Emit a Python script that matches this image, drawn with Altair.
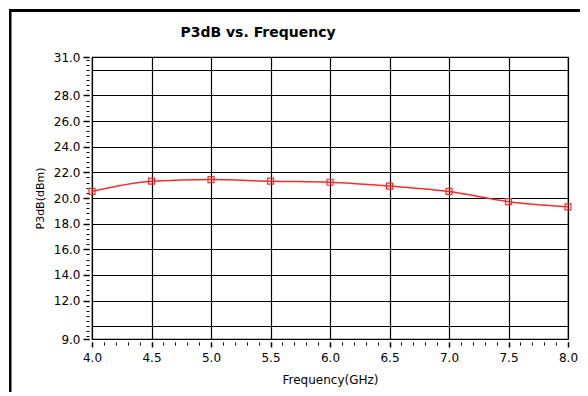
import altair as alt
import pandas as pd

# ---- data ----
freq_ghz = [4.0, 4.5, 5.0, 5.5, 6.0, 6.5, 7.0, 7.5, 8.0]
p3db_dbm = [20.51, 21.31, 21.44, 21.31, 21.23, 20.93, 20.51, 19.71, 19.31]

# ---- axis ticks ----
x_major_ticks = [4.0, 4.5, 5.0, 5.5, 6.0, 6.5, 7.0, 7.5, 8.0]
x_minor_ticks = [round(4.0 + 0.1 * i, 1) for i in range(41)]
y_label_ticks = [9.0, 12.0, 14.0, 16.0, 18.0, 20.0, 22.0, 24.0, 26.0, 28.0, 31.0]
y_grid_values = [10.0, 12.0, 14.0, 16.0, 18.0, 20.0, 22.0, 24.0, 26.0, 28.0, 30.0]
y_minor_ticks = [9.0] + [round(9.2 + 0.4 * i, 1) for i in range(55)] + [31.0]

chart_title = "P3dB vs. Frequency"
x_title = "Frequency(GHz)"
y_title = "P3dB(dBm)"

X_DOMAIN = [4.0, 8.0]
Y_DOMAIN = [9.0, 31.0]
FONT = "DejaVu Sans"
RED = "#ff2a2a"

df = pd.DataFrame({"freq": freq_ghz, "p3db": p3db_dbm})
one = pd.DataFrame({"k": [0]})

xs = alt.Scale(domain=X_DOMAIN, nice=False, zero=False)
ys = alt.Scale(domain=Y_DOMAIN, nice=False, zero=False)

major_x_axis = alt.Axis(
    orient="bottom", values=x_major_ticks, format=".1f", title=x_title,
    grid=True, gridColor="black", gridWidth=1.2, gridOpacity=1,
    domain=False, ticks=True, tickSize=5, tickColor="black", tickWidth=1.5,
    offset=3, labelFont=FONT, labelFontSize=12, labelColor="black",
    labelPadding=5, labelFlush=False, labelOverlap=False,
    titleFont=FONT, titleFontSize=12, titleFontWeight="normal",
    titleColor="black", titlePadding=11,
)
major_y_axis = alt.Axis(
    orient="left", values=y_label_ticks, format=".1f", title=y_title,
    grid=False, domain=False, ticks=True, tickSize=6, tickColor="black",
    tickWidth=1.5, offset=3, labelFont=FONT, labelFontSize=12,
    labelColor="black", labelPadding=3, labelOverlap=False, labelFlush=False,
    titleFont=FONT, titleFontSize=11, titleFontWeight="normal",
    titleColor="black", titlePadding=8,
)
minor_x_axis = alt.Axis(
    orient="bottom", values=x_minor_ticks, labels=False, grid=False,
    domain=False, ticks=True, tickSize=3, tickColor="black", tickWidth=1,
    offset=3, title=None,
)
minor_y_axis = alt.Axis(
    orient="left", values=y_minor_ticks, labels=False, grid=False,
    domain=False, ticks=True, tickSize=3, tickColor="black", tickWidth=1,
    offset=3, title=None,
)
grid_y_axis = alt.Axis(
    orient="left", values=y_grid_values, labels=False, grid=True,
    gridColor="black", gridWidth=1.2, gridOpacity=1,
    domain=False, ticks=False, title=None,
)

base = alt.Chart(df)

line = base.mark_line(color=RED, strokeWidth=1.5, interpolate="monotone").encode(
    x=alt.X("freq:Q", scale=xs, axis=major_x_axis),
    y=alt.Y("p3db:Q", scale=ys, axis=major_y_axis),
)
points = base.mark_point(shape="square", size=36, filled=False, color=RED,
                         strokeWidth=1.2, opacity=1).encode(
    x=alt.X("freq:Q", scale=xs, axis=major_x_axis),
    y=alt.Y("p3db:Q", scale=ys, axis=major_y_axis),
)
main = alt.layer(line, points)

minor = base.mark_point(opacity=0).encode(
    x=alt.X("freq:Q", scale=xs, axis=minor_x_axis),
    y=alt.Y("p3db:Q", scale=ys, axis=minor_y_axis),
)
grid = base.mark_point(opacity=0).encode(
    x=alt.X("freq:Q", scale=xs, axis=None),
    y=alt.Y("p3db:Q", scale=ys, axis=grid_y_axis),
)

# decorative outer frame (left and top borders) and inner title
frame_top = alt.Chart(one).mark_rect(color="black").encode(
    x=alt.value(-83), x2=alt.value(488), y=alt.value(-48), y2=alt.value(-45)
)
frame_left = alt.Chart(one).mark_rect(color="black").encode(
    x=alt.value(-83), x2=alt.value(-80.5), y=alt.value(-48), y2=alt.value(336)
)
title = alt.Chart(one).mark_text(
    text=chart_title, font=FONT, fontSize=14, fontWeight="bold",
    align="center", baseline="alphabetic", color="black"
).encode(x=alt.value(166), y=alt.value(-20))

chart = alt.layer(grid, minor, main, frame_top, frame_left, title).resolve_axis(
    x="independent", y="independent"
).properties(
    width=476, height=282,
    autosize=alt.AutoSizeParams(type="none"),
    padding={"left": 84, "top": 49, "right": 12, "bottom": 53},
    background="white",
).configure_view(stroke="black", strokeWidth=1.2)

chart.save("out.html", embed_options={"renderer": "svg", "actions": False})
